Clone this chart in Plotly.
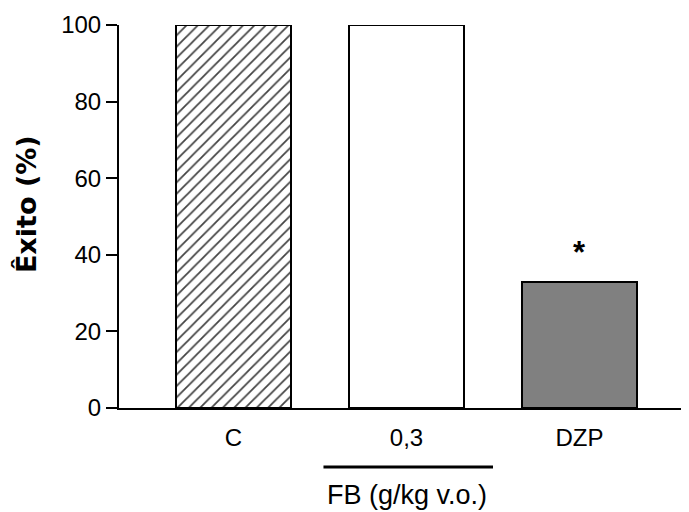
import plotly.graph_objects as go

categories = ["C", "0,3", "DZP"]
values = [100, 100, 33]
fill_colors = ["white", "white", "#808080"]
patterns = ["/", "", ""]
y_ticks = [0, 20, 40, 60, 80, 100]
y_title = "Êxito (%)"
group_label = "FB (g/kg v.o.)"
sig_label = "*"

FONT = "Liberation Sans, Arial, sans-serif"
OFF = 8  # default page margin of the html body

fig = go.Figure()
fig.add_trace(go.Bar(
    x=list(range(len(categories))),
    y=values,
    width=0.665,
    marker=dict(
        color=fill_colors,
        line=dict(color="black", width=2),
        pattern=dict(shape=patterns, fgcolor="black", bgcolor="white",
                     fgopacity=1, size=8, solidity=0.22, fillmode="overlay"),
    ),
    showlegend=False,
))

# significance star above DZP
fig.add_annotation(x=2, y=values[2], text="<b>" + sig_label + "</b>", showarrow=False,
                   yshift=29, font=dict(size=31, family=FONT, color="black"))

# grouping line under "0,3"
fig.add_shape(type="line", xref="x", yref="paper", x0=0.52, x1=1.5,
              y0=-0.154, y1=-0.154, line=dict(color="black", width=3))
fig.add_annotation(x=1.0, xref="x", y=-0.227, yref="paper", yanchor="middle",
                   text=group_label, showarrow=False,
                   font=dict(size=27, family=FONT, color="black"))

# y-axis title
fig.add_annotation(x=-0.161, xref="paper", y=0.533, yref="paper",
                   xanchor="center", yanchor="middle", textangle=-90,
                   text="<b>" + y_title + "</b>", showarrow=False,
                   font=dict(size=27, family="DejaVu Sans, sans-serif", color="black"))

fig.update_layout(
    width=689 - OFF, height=512 - OFF,
    margin=dict(l=119 - OFF, r=0, t=25 - OFF, b=104, pad=0),
    plot_bgcolor="white", paper_bgcolor="white",
    font=dict(family=FONT, size=24, color="black"),
    bargap=0,
)
fig.update_xaxes(
    range=[-0.662, 2.633],
    tickvals=list(range(len(categories))), ticktext=categories,
    showline=True, linecolor="black", linewidth=2,
    showgrid=False, zeroline=False, ticks="", ticklabelstandoff=7,
    tickfont=dict(size=24, family=FONT, color="black"),
)
fig.update_yaxes(
    range=[0, 100], tickvals=y_ticks,
    showline=True, linecolor="black", linewidth=2,
    ticks="outside", ticklen=11, tickwidth=2, tickcolor="black",
    showgrid=False, zeroline=False,
    tickfont=dict(size=24, family=FONT, color="black"),
)

fig.write_html("out.html")
